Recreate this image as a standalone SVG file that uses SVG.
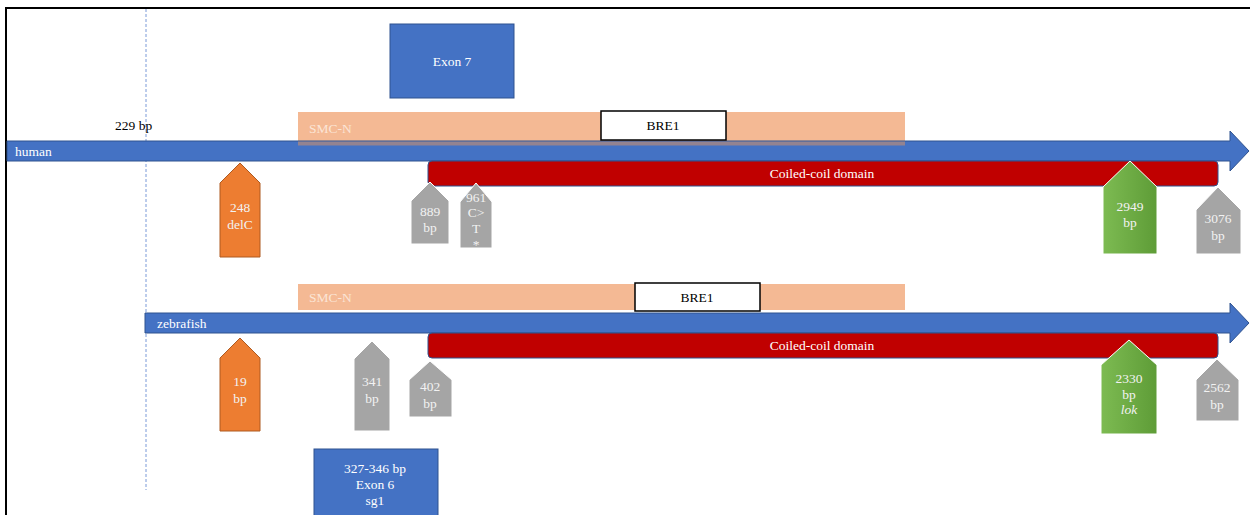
<svg xmlns="http://www.w3.org/2000/svg" width="1250" height="515" viewBox="0 0 1250 515" font-family="'Liberation Serif', 'DejaVu Serif', serif" font-size="13">
<defs>
<linearGradient id="grn" x1="0" y1="0" x2="1" y2="0">
<stop offset="0" stop-color="#7DBB52"/>
<stop offset="1" stop-color="#5E9C37"/>
</linearGradient>
</defs>
<style>
text{font-family:'Liberation Serif','DejaVu Serif',serif;font-size:13.5px;}
.w{fill:#FFFFFF;}
.lw{fill:#F2F2F2;}
.k{fill:#000000;}
.c{text-anchor:middle;}
.blue{fill:#4472C4;stroke:#2F528F;stroke-width:1;}
.smc{fill:#F4B994;}
.bre{fill:#FFFFFF;stroke:#000000;stroke-width:1.5;}
.cc{fill:#C00000;stroke:#2F528F;stroke-width:1;}
.or{fill:#ED7D31;stroke:#AE5A21;stroke-width:1;}
.gr{fill:#A5A5A5;stroke:#FFFFFF;stroke-width:1;}
.gn{fill:url(#grn);stroke:#FFFFFF;stroke-width:1;}
.smct{fill:#FBE5D6;}
</style>
<rect x="0" y="0" width="1250" height="515" fill="#FFFFFF"/>
<g id="frame">
<line x1="6" y1="8" x2="1250" y2="8" stroke="#000" stroke-width="2"/>
<line x1="6" y1="7" x2="6" y2="515" stroke="#000" stroke-width="2"/>
</g>
<g id="connectors">
<line x1="146" y1="9" x2="146" y2="490" stroke="#7A9AD8" stroke-width="1" stroke-dasharray="3,2"/>
</g>
<g id="exon7">
<rect class="blue" x="390" y="24" width="124" height="74"/>
<text class="w c" x="452" y="66">Exon 7</text>
</g>
<g id="label-229">
<text class="k" x="115" y="130">229 bp</text>
</g>
<g id="human-smcn">
<rect class="smc" x="298" y="112" width="607" height="29"/>
<text class="smct" x="309" y="133">SMC-N</text>
</g>
<g id="human-arrow">
<path class="blue" d="M7,141 L1230,141 L1230,131 L1249,151 L1230,171 L1230,161 L7,161 Z"/>
<text class="w" x="15" y="156">human</text>
</g>
<rect x="298" y="141.5" width="607" height="4" fill="#C89070" opacity="0.6"/>
<g id="human-bre1">
<rect class="bre" x="601" y="111" width="125" height="29"/>
<text class="k c" x="663" y="130">BRE1</text>
</g>
<g id="human-coiled">
<rect class="cc" x="428" y="161" width="790" height="25" rx="4"/>
<text class="w c" x="822" y="178">Coiled-coil domain</text>
</g>
<g id="h-248">
<path class="or" d="M220,183 L240,163 L260,183 L260,257 L220,257 Z"/>
<text class="lw c" x="240" y="212">248</text>
<text class="lw c" x="240" y="229">delC</text>
</g>
<g id="h-889">
<path class="gr" d="M411,201 L430,182 L449,201 L449,244 L411,244 Z"/>
<text class="lw c" x="430" y="216">889</text>
<text class="lw c" x="430" y="232">bp</text>
</g>
<g id="h-961">
<path class="gr" d="M460,202 L476,183 L492,202 L492,248 L460,248 Z"/>
<text class="lw c" x="476" y="202">961</text>
<text class="lw c" x="476" y="217">C&gt;</text>
<text class="lw c" x="476" y="233">T</text>
<text class="lw c" x="476" y="249">*</text>
</g>
<g id="h-2949">
<path class="gn" d="M1103,187 L1130,161 L1157,187 L1157,254 L1103,254 Z"/>
<text class="lw c" x="1130" y="211">2949</text>
<text class="lw c" x="1130" y="227">bp</text>
</g>
<g id="h-3076">
<path class="gr" d="M1196,210 L1218,187 L1241,210 L1241,254 L1196,254 Z"/>
<text class="lw c" x="1218" y="223">3076</text>
<text class="lw c" x="1218" y="240">bp</text>
</g>
<g id="zebra-smcn">
<rect class="smc" x="298" y="284" width="607" height="26"/>
<text class="smct" x="309" y="302">SMC-N</text>
</g>
<g id="zebra-bre1">
<rect class="bre" x="635" y="283" width="125" height="28"/>
<text class="k c" x="697" y="302">BRE1</text>
</g>
<g id="zebra-arrow">
<path class="blue" d="M145,313 L1230,313 L1230,303 L1249,323 L1230,343 L1230,333 L145,333 Z"/>
<text class="w" x="157" y="328">zebrafish</text>
</g>
<g id="zebra-coiled">
<rect class="cc" x="428" y="333" width="790" height="25" rx="4"/>
<text class="w c" x="822" y="350">Coiled-coil domain</text>
</g>
<g id="z-19">
<path class="or" d="M220,358 L240,338 L260,358 L260,431 L220,431 Z"/>
<text class="lw c" x="240" y="386">19</text>
<text class="lw c" x="240" y="403">bp</text>
</g>
<g id="z-341">
<path class="gr" d="M354,359 L372,341 L390,359 L390,431 L354,431 Z"/>
<text class="lw c" x="372" y="386">341</text>
<text class="lw c" x="372" y="403">bp</text>
</g>
<g id="z-402">
<path class="gr" d="M409,380 L430,361 L452,380 L452,417 L409,417 Z"/>
<text class="lw c" x="430" y="391">402</text>
<text class="lw c" x="430" y="408">bp</text>
</g>
<g id="z-2330">
<path class="gn" d="M1101,365 L1129,340 L1157,365 L1157,434 L1101,434 Z"/>
<text class="lw c" x="1129" y="383">2330</text>
<text class="lw c" x="1129" y="399">bp</text>
<text class="lw c" x="1129" y="414" font-style="italic">lok</text>
</g>
<g id="z-2562">
<path class="gr" d="M1196,380 L1217,359 L1239,380 L1239,421 L1196,421 Z"/>
<text class="lw c" x="1217" y="392">2562</text>
<text class="lw c" x="1217" y="409">bp</text>
</g>
<g id="exon6">
<rect class="blue" x="314" y="449" width="124" height="70"/>
<text class="w c" x="375" y="473">327-346  bp</text>
<text class="w c" x="375" y="489">Exon 6</text>
<text class="w c" x="375" y="505">sg1</text>
</g>
</svg>
